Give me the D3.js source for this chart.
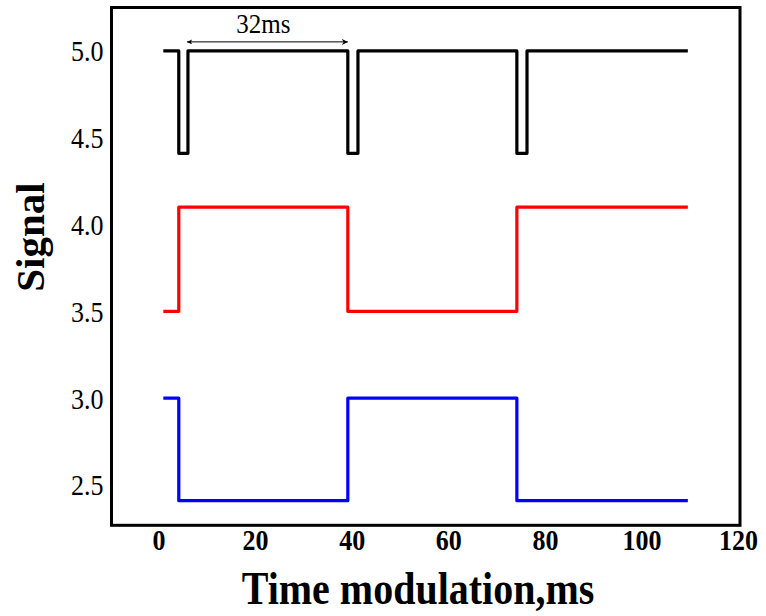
<!DOCTYPE html>
<html>
<head>
<meta charset="utf-8">
<script src="https://cdn.jsdelivr.net/npm/d3@7"></script>
<style>
  body { margin: 0; background: #fff; }
  text { font-family: "Liberation Serif", "Times New Roman", serif; }
</style>
</head>
<body>
<div id="chart"></div>
<script>
// step signals: value holds from each time until the next one
var blackTimes = [1, 4.2, 6.1, 39.2, 41.3, 74.2, 76.3, 109.6];
var blackValues = [5.0, 4.41, 5.0, 4.41, 5.0, 4.41, 5.0, 5.0];
var redTimes = [1, 4.2, 39.2, 74.2, 109.6];
var redValues = [3.5, 4.1, 3.5, 4.1, 4.1];
var blueTimes = [1, 4.2, 39.2, 74.2, 109.6];
var blueValues = [3.0, 2.41, 3.0, 2.41, 2.41];

var xTicks = [0, 20, 40, 60, 80, 100, 120];
var yTicks = [2.5, 3.0, 3.5, 4.0, 4.5, 5.0];

// period annotation
var periodStart = 5.9, periodEnd = 39.2, periodLevel = 5.052;
var periodLabel = "32ms";

var W = 766, H = 616;
var frame = {left: 111.5, right: 740, top: 7.5, bottom: 525.3};

var x = d3.scaleLinear().domain([-9.73, 120.4]).range([frame.left, frame.right]);
var y = d3.scaleLinear().domain([2.268, 5.25]).range([frame.bottom, frame.top]);

var svg = d3.select("#chart").append("svg")
  .attr("width", W)
  .attr("height", H);

var defs = svg.append("defs");
defs.append("marker")
  .attr("id", "headEnd")
  .attr("viewBox", "0 0 10 10")
  .attr("refX", 10).attr("refY", 5)
  .attr("markerWidth", 13).attr("markerHeight", 6)
  .attr("markerUnits", "userSpaceOnUse")
  .attr("orient", "auto")
  .append("path").attr("d", "M0,0 L10,5 L0,10 L3,5 Z").attr("fill", "#000");
defs.append("marker")
  .attr("id", "headStart")
  .attr("viewBox", "0 0 10 10")
  .attr("refX", 0).attr("refY", 5)
  .attr("markerWidth", 9).attr("markerHeight", 5)
  .attr("markerUnits", "userSpaceOnUse")
  .attr("orient", "auto")
  .append("path").attr("d", "M10,0 L0,5 L10,10 L8,5 Z").attr("fill", "#000");

// y tick labels (no tick marks in the original)
svg.append("g")
  .attr("transform", "translate(" + frame.left + ",0)")
  .call(d3.axisLeft(y).tickValues(yTicks).tickSize(0).tickPadding(8)
    .tickFormat(d3.format(".1f")))
  .call(function(g) { g.select(".domain").remove(); })
  .selectAll("text")
    .attr("font-family", "Liberation Serif")
    .attr("font-size", 26)
    .attr("fill", "#000")
    .attr("dy", "0.34em")
    .attr("transform", "scale(1,1.12)");

// x tick labels
svg.append("g")
  .attr("transform", "translate(0," + frame.bottom + ")")
  .call(d3.axisBottom(x).tickValues(xTicks).tickSize(0).tickPadding(4)
    .tickFormat(d3.format("d")))
  .call(function(g) { g.select(".domain").remove(); })
  .selectAll("text")
    .attr("font-family", "Liberation Serif")
    .attr("font-size", 26)
    .attr("font-weight", "bold")
    .attr("fill", "#000")
    .attr("dy", "0.71em")
    .attr("transform", "scale(1,1.12)");

// signals
var series = [
  {times: blackTimes, values: blackValues, color: "#000000"},
  {times: redTimes, values: redValues, color: "#ff0000"},
  {times: blueTimes, values: blueValues, color: "#0000ff"}
];

var line = d3.line()
  .x(function(d) { return x(d[0]); })
  .y(function(d) { return y(d[1]); })
  .curve(d3.curveStepAfter);

svg.selectAll(".signal")
  .data(series)
  .enter().append("path")
    .attr("class", "signal")
    .attr("fill", "none")
    .attr("stroke", function(d) { return d.color; })
    .attr("stroke-width", 3.2)
    .attr("stroke-linejoin", "round")
    .attr("d", function(d) { return line(d3.zip(d.times, d.values)); });

// period arrow
svg.append("line")
  .attr("x1", x(periodStart))
  .attr("x2", x(periodEnd))
  .attr("y1", y(periodLevel))
  .attr("y2", y(periodLevel))
  .attr("stroke", "#000")
  .attr("stroke-width", 1)
  .attr("marker-start", "url(#headStart)")
  .attr("marker-end", "url(#headEnd)");

svg.append("text")
  .attr("transform", "translate(" + (x((periodStart + periodEnd) / 2) - 4) + "," + (y(periodLevel) - 9) + ") scale(1,1.1)")
  .attr("text-anchor", "middle")
  .attr("font-size", 25)
  .text(periodLabel);

// frame
svg.append("rect")
  .attr("x", frame.left)
  .attr("y", frame.top)
  .attr("width", frame.right - frame.left)
  .attr("height", frame.bottom - frame.top)
  .attr("fill", "none")
  .attr("stroke", "#000")
  .attr("stroke-width", 3);

// axis titles
svg.append("text")
  .attr("transform", "translate(418,604) scale(1,1.18)")
  .attr("text-anchor", "middle")
  .attr("font-size", 40)
  .attr("font-weight", "bold")
  .text("Time modulation,ms");

svg.append("text")
  .attr("transform", "translate(44,237) rotate(-90)")
  .attr("text-anchor", "middle")
  .attr("font-size", 41)
  .attr("font-weight", "bold")
  .text("Signal");
</script>
</body>
</html>
